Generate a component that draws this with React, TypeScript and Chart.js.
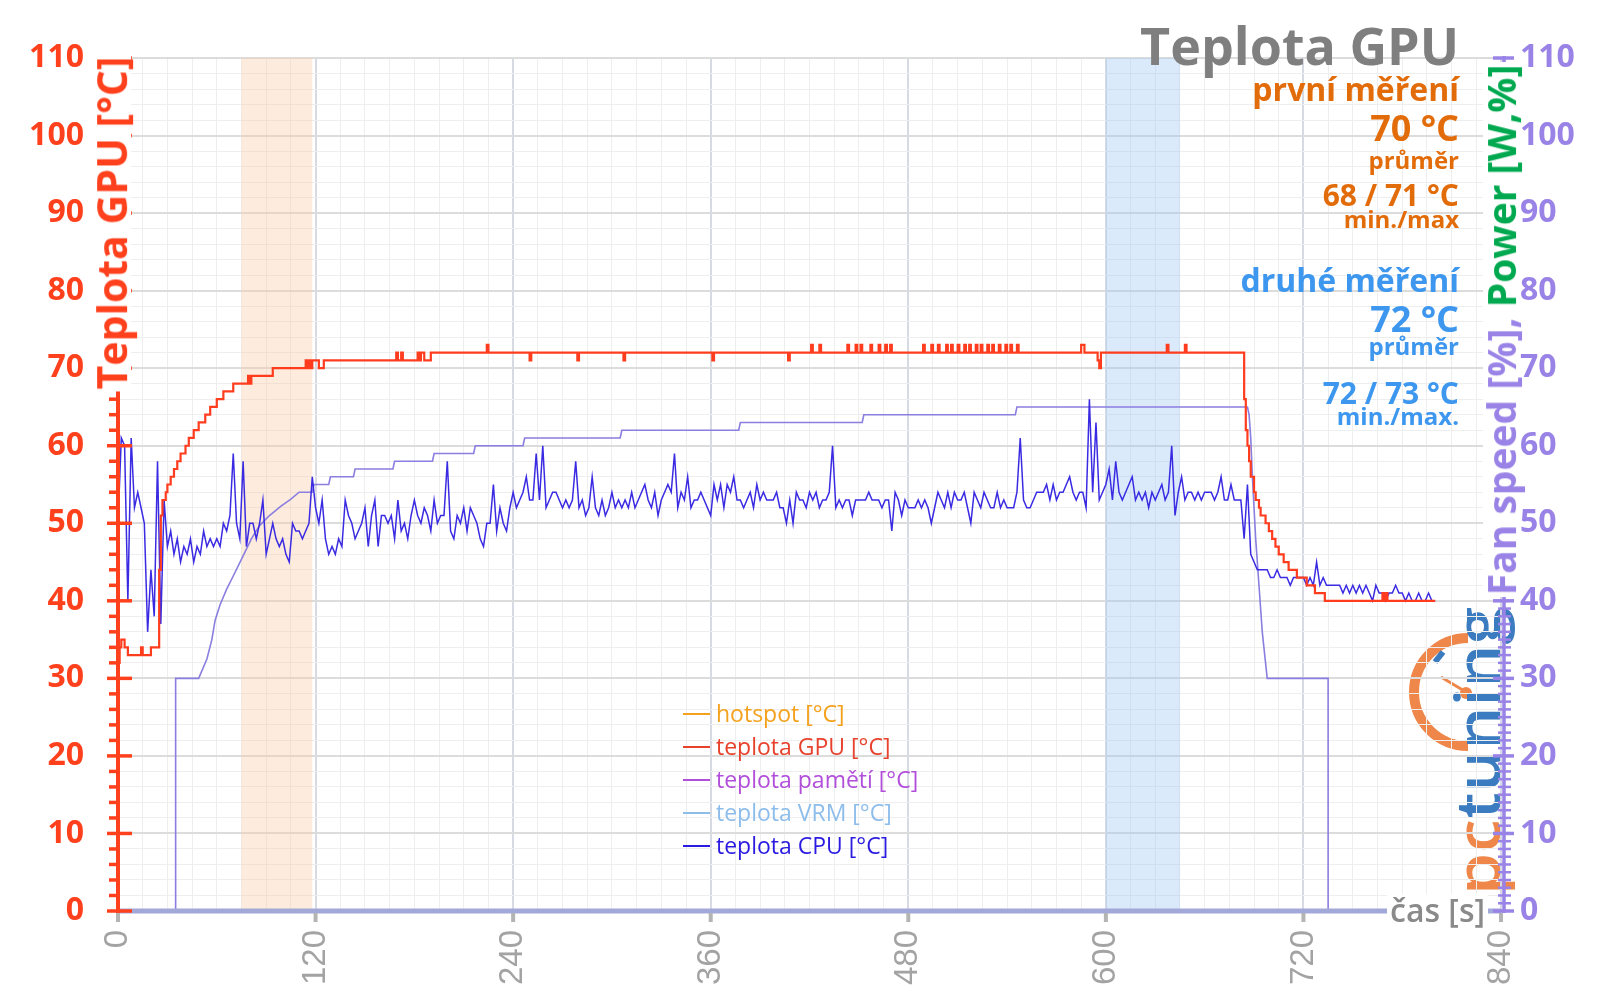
import React, { useEffect, useRef } from "react";
import { Chart, registerables } from "chart.js";

Chart.register(...registerables);

const W = 1600;
const H = 1008;

// ---------- axes ----------
const xMin = 0;
const xMax = 840;
const xMinorStep = 15;
const xMajorStep = 120;
const yMin = 0;
const yMax = 110;
const yMinorStep = 2;
const yMajorStep = 10;

// ---------- series (time [s], value) ----------
// teplota GPU [°C]  (step changes)
const gpuTemp: [number, number][] = [
  [0, 32], [1, 34], [2, 35], [4, 34], [6, 33], [14, 34], [15, 33], [20, 34], [25, 44], [26, 51],
  [27, 53], [29, 54], [30, 55], [32, 56], [34, 57], [36, 58], [38, 59], [41, 60], [43, 61], [46, 62],
  [49, 63], [53, 64], [56, 65], [60, 66], [64, 67], [70, 68], [79, 69], [80, 68], [81, 69], [94, 70],
  [114, 71], [115, 70], [116, 71], [117, 70], [118, 71], [122, 70], [125, 71], [169, 72], [170, 71], [172, 72],
  [173, 71], [182, 72], [183, 71], [184, 72], [186, 71], [190, 72], [224, 73], [225, 72], [250, 71], [251, 72],
  [279, 71], [280, 72], [307, 71], [308, 72], [361, 71], [362, 72], [407, 71], [408, 72], [421, 73], [422, 72],
  [426, 73], [427, 72], [443, 73], [444, 72], [448, 73], [449, 72], [451, 73], [452, 72], [457, 73], [458, 72],
  [462, 73], [463, 72], [466, 73], [467, 72], [469, 73], [470, 72], [489, 73], [490, 72], [494, 73], [495, 72],
  [498, 73], [499, 72], [503, 73], [504, 72], [506, 73], [507, 72], [510, 73], [511, 72], [514, 73], [515, 72],
  [517, 73], [518, 72], [521, 73], [522, 72], [524, 73], [525, 72], [528, 73], [529, 72], [531, 73], [532, 72],
  [535, 73], [536, 72], [539, 73], [540, 72], [542, 73], [543, 72], [546, 73], [547, 72], [585, 73], [587, 72],
  [595, 71], [596, 70], [597, 72], [637, 73], [638, 72], [648, 73], [649, 72], [684, 66], [685, 62], [686, 60],
  [687, 58], [688, 56], [690, 54], [691, 53], [693, 52], [694, 51], [697, 50], [699, 49], [701, 48], [703, 47],
  [705, 46], [708, 45], [711, 44], [716, 43], [722, 42], [727, 41], [733, 40], [768, 41], [769, 40], [770, 41],
  [771, 40], [800, 40],
];

// Fan speed [%]
const fanSpeed: [number, number][] = [
  [0, 0], [35, 0], [35, 30], [49, 30], [51, 31], [54, 32.5], [57, 35], [59, 37.5], [62, 39.5], [66, 41.5],
  [70, 43.2], [76, 45.8], [81, 48], [86, 49.7], [92, 51], [99, 52.2], [105, 53.1], [110, 54], [118, 54], [119, 55],
  [128, 55], [129, 56], [143, 56], [144, 57], [167, 57], [168, 58], [191, 58], [192, 59], [216, 59], [217, 60],
  [246, 60], [247, 61], [305, 61], [306, 62], [377, 62], [378, 63], [452, 63], [453, 64], [545, 64], [546, 65],
  [686, 65], [687, 64], [688, 61], [689, 56], [691, 48], [693, 42], [695, 36], [697, 32], [698, 30], [735, 30],
  [735, 0], [800, 0],
];

// teplota CPU [°C], one sample every 2 s from t = 0
const cpuSampleStep = 2;
const cpuTemp: number[] = [
  50, 61, 60, 40, 61, 52, 54, 52, 50, 36, 44, 38, 58, 37, 53, 47, 49, 46, 48, 45,
  47, 46, 48, 45, 47, 46, 49, 47, 48, 47, 48, 47, 50, 49, 51, 59, 50, 48, 58, 47,
  50, 50, 48, 50, 53, 46, 48, 50, 48, 47, 48, 46, 45, 50, 49, 49, 48, 49, 50, 56,
  52, 50, 53, 48, 46, 47, 46, 48, 47, 53, 51, 50, 48, 49, 50, 52, 47, 51, 53, 47,
  51, 51, 50, 51, 48, 53, 49, 50, 48, 51, 53, 51, 50, 52, 51, 49, 53, 50, 51, 51,
  58, 49, 48, 51, 50, 52, 49, 52, 51, 50, 48, 47, 50, 50, 55, 49, 52, 50, 49, 52,
  54, 52, 53, 54, 56, 53, 53, 59, 53, 60, 52, 53, 54, 54, 53, 52, 53, 52, 53, 58,
  52, 53, 51, 52, 56, 52, 51, 53, 51, 52, 54, 52, 53, 52, 53, 52, 54, 52, 53, 54,
  55, 53, 52, 54, 51, 53, 54, 55, 54, 59, 52, 54, 53, 56, 52, 53, 53, 54, 53, 52,
  51, 55, 53, 55, 52, 55, 54, 56, 53, 53, 52, 53, 54, 52, 55, 53, 54, 53, 53, 53,
  54, 52, 52, 50, 53, 50, 54, 53, 53, 52, 54, 53, 54, 52, 53, 53, 54, 60, 52, 53,
  52, 53, 53, 51, 53, 53, 53, 53, 54, 53, 53, 53, 52, 53, 53, 49, 54, 53, 51, 53,
  52, 52, 52, 53, 52, 53, 52, 50, 52, 54, 53, 52, 54, 52, 54, 53, 53, 54, 52, 50,
  54, 53, 52, 54, 53, 52, 52, 54, 52, 53, 52, 52, 52, 54, 61, 53, 52, 52, 53, 54,
  54, 54, 55, 53, 55, 53, 54, 54, 55, 56, 54, 53, 54, 54, 52, 66, 54, 63, 53, 54,
  55, 57, 53, 58, 54, 53, 54, 55, 56, 53, 54, 53, 54, 52, 54, 53, 54, 55, 53, 54,
  60, 51, 54, 56, 53, 54, 54, 53, 54, 53, 54, 54, 54, 53, 54, 56, 53, 53, 55, 53,
  53, 53, 48, 55, 46, 45, 44, 44, 44, 44, 43, 43, 44, 43, 43, 43, 42, 43, 43, 43,
  43, 42, 43, 42, 45, 42, 43, 42, 42, 42, 42, 42, 41, 42, 41, 42, 41, 42, 41, 42,
  41, 40, 42, 41, 41, 40, 41, 41, 42, 41, 41, 40, 41, 40, 40, 41, 40, 40, 41, 40,
  40,
];

// measured windows (time [s])
const firstWindow = [75, 118];
const secondWindow = [600, 645];

// ---------- texts ----------
const chartTitle = "Teplota GPU";
const leftAxisTitle = "Teplota GPU [°C]";
const rightAxisTitleA = "Fan speed [%], ";
const rightAxisTitleB = "Power [W,%]";
const xAxisTitle = "čas [s]";
const firstStats = ["první měření", "70 °C", "průměr", "68 / 71 °C", "min./max"];
const secondStats = ["druhé měření", "72 °C", "průměr", "72 / 73 °C", "min./max."];
const legendLabels = ["hotspot [°C]", "teplota GPU [°C]", "teplota pamětí [°C]", "teplota VRM [°C]", "teplota CPU [°C]"];
const legendColors = ["#F4A21E", "#E8412C", "#B24FDA", "#8DBDEB", "#2B1BE0"];

// ---------- colours ----------
const RED = "#FF401C";
const GPU_LINE = "#FF3C1E";
const CPU_LINE = "#3A2BE3";
const FAN_LINE = "#8A7EE0";
const PURPLE = "#9A83E6";
const GREEN = "#00A84F";
const ORANGE = "#E36C0A";
const BLUE = "#3D97EE";
const GRAY_TITLE = "#7F7F7F";
const OS = '"Open Sans", "DejaVu Sans", sans-serif';

const decoPlugin = {
  id: "deco",
  beforeDatasetsDraw(chart: any) {
    const { ctx, chartArea: a, scales } = chart;
    const x = scales.x;
    ctx.save();
    const bands: [number[], string][] = [
      [firstWindow, "rgba(251,205,165,0.38)"],
      [secondWindow, "rgba(160,200,245,0.38)"],
    ];
    for (const [w, c] of bands) {
      const x0 = x.getPixelForValue(w[0]);
      const x1 = x.getPixelForValue(w[1]);
      ctx.fillStyle = c;
      ctx.fillRect(x0, a.top, x1 - x0, a.bottom - a.top);
    }
    ctx.restore();
  },
  afterDatasetsDraw(chart: any) {
    const { ctx, chartArea: a, scales } = chart;
    const x = scales.x;
    const y = scales.y;
    const line = (x0: number, y0: number, x1: number, y1: number) => {
      ctx.beginPath();
      ctx.moveTo(x0, y0);
      ctx.lineTo(x1, y1);
      ctx.stroke();
    };
    ctx.save();
    // x axis
    ctx.strokeStyle = "#A2A8D8";
    ctx.lineWidth = 5;
    line(a.left, a.bottom, a.right, a.bottom);
    ctx.strokeStyle = "#B4B4B4";
    ctx.lineWidth = 4;
    for (let v = xMin; v <= xMax; v += xMajorStep) {
      const px = x.getPixelForValue(v);
      line(px, a.bottom + 2, px, a.bottom + 11);
    }
    // left axis
    ctx.strokeStyle = RED;
    ctx.lineWidth = 4;
    line(a.left, a.top - 2, a.left, a.bottom + 2);
    ctx.lineWidth = 3.5;
    for (let v = yMin; v <= yMax; v += yMinorStep) {
      const py = y.getPixelForValue(v);
      if (v % yMajorStep === 0) line(a.left - 11, py, a.left + 14, py);
      else line(a.left - 9, py, a.left, py);
    }
    // right axis
    ctx.strokeStyle = PURPLE;
    ctx.lineWidth = 3.5;
    line(a.right + 3, a.top - 2, a.right + 3, a.bottom + 2);
    for (let v = yMin; v <= yMax; v += 1) {
      const py = y.getPixelForValue(v);
      if (v % yMajorStep === 0) {
        ctx.lineWidth = 3.5;
        line(a.right - 8, py, a.right + 13, py);
      } else {
        ctx.lineWidth = 2.5;
        line(a.right - 3, py, a.right + 10, py);
      }
    }
    ctx.restore();
  },
};

function Txt(props: { x: number; base: number; size: number; color: string; text: string; weight?: number; align?: "left" | "right"; bg?: string }) {
  const { x, base, size, color, text, weight = 700, align = "right", bg } = props;
  const style: any = {
    position: "absolute",
    top: base - 0.888 * size,
    fontFamily: OS,
    fontWeight: weight,
    fontSize: size,
    lineHeight: 1,
    color,
    whiteSpace: "nowrap",
  };
  if (bg) {
    style.background = bg;
    style.padding = "0 3px";
  }
  if (align === "right") style.right = W - x;
  else style.left = x;
  return <div style={style}>{text}</div>;
}

export default function App() {
  const ref = useRef<HTMLCanvasElement>(null);

  useEffect(() => {
    const canvas = ref.current!;
    const gpuData = gpuTemp.map(([t, v]) => ({ x: t, y: v }));
    const fanData = fanSpeed.map(([t, v]) => ({ x: t, y: v }));
    const cpuData = cpuTemp.map((v, i) => ({ x: i * cpuSampleStep, y: v }));

    const chart = new Chart(canvas, {
      type: "line",
      data: {
        datasets: [
          { label: "teplota GPU [°C]", data: gpuData, yAxisID: "y", borderColor: GPU_LINE, borderWidth: 2.2, pointRadius: 0, stepped: true },
          { label: "teplota CPU [°C]", data: cpuData, yAxisID: "y", borderColor: CPU_LINE, borderWidth: 1.5, pointRadius: 0, tension: 0 },
          { label: "Fan speed [%]", data: fanData, yAxisID: "yR", borderColor: FAN_LINE, borderWidth: 1.6, pointRadius: 0, tension: 0 },
        ],
      },
      options: {
        responsive: false,
        animation: false,
        layout: { padding: { top: 58, left: 0, right: 0, bottom: 0 } },
        plugins: { legend: { display: false }, tooltip: { enabled: false }, title: { display: false } },
        scales: {
          x: {
            type: "linear",
            min: xMin,
            max: xMax,
            afterFit: (s: any) => { s.height = 97; },
            border: { display: false },
            grid: {
              drawTicks: false,
              color: (c: any) => (c.tick && c.tick.value % xMajorStep === 0 ? "#D7DAE3" : "#EEEEEE"),
              lineWidth: (c: any) => (c.tick && c.tick.value % xMajorStep === 0 ? 2 : 1),
            },
            ticks: {
              stepSize: xMinorStep,
              autoSkip: false,
              minRotation: 90,
              maxRotation: 90,
              padding: 19,
              color: "#A3A3A3",
              font: { family: '"Liberation Sans", Arial, sans-serif', size: 33 },
              callback: (v: any) => (Number(v) % xMajorStep === 0 ? String(v) : ""),
            },
          },
          y: {
            position: "left",
            min: yMin,
            max: yMax,
            afterFit: (s: any) => { s.width = 118; },
            border: { display: false },
            grid: {
              drawTicks: false,
              color: (c: any) => (c.tick && c.tick.value % yMajorStep === 0 ? "#DCDCDC" : "#EEEEEE"),
              lineWidth: (c: any) => (c.tick && c.tick.value % yMajorStep === 0 ? 2 : 1),
            },
            ticks: {
              stepSize: yMinorStep,
              autoSkip: false,
              padding: 34,
              color: RED,
              font: { family: OS, size: 32, weight: "bold" },
              callback: (v: any) => (Number(v) % yMajorStep === 0 ? String(v) : ""),
            },
          },
          yR: {
            position: "right",
            min: yMin,
            max: yMax,
            afterFit: (s: any) => { s.width = 99; },
            border: { display: false },
            grid: { display: false, drawTicks: false },
            ticks: {
              stepSize: yMajorStep,
              autoSkip: false,
              padding: 19,
              color: PURPLE,
              font: { family: OS, size: 32, weight: "bold" },
            },
          },
        },
      },
      plugins: [decoPlugin],
    } as any);
    return () => chart.destroy();
  }, []);

  const statSizes = [32, 36, 24, 30, 24];
  const firstBases = [101, 142, 169, 207, 228];
  const secondBases = [292, 333, 355, 405, 425];
  const legendRowY = [714, 747, 780, 813, 846];

  return (
    <div style={{ position: "absolute", left: 0, top: 0, width: W, height: H, background: "#fff", overflow: "hidden" }}>
      {/* logo under the chart */}
      <svg width={W} height={H} style={{ position: "absolute", left: 0, top: 0 }}>
        <path d="M 1468 638 A 54 54 0 0 0 1468 746" fill="none" stroke="#F0874A" strokeWidth={10} />
        <line x1={1435} y1={662} x2={1443} y2={652} stroke="#3B7BBF" strokeWidth={6} />
        <line x1={1441} y1={677} x2={1466} y2={692} stroke="#F0874A" strokeWidth={3} />
        <circle cx={1466} cy={693} r={6} fill="#F0874A" />
        <text
          transform="translate(1500,895) rotate(-90)"
          fontFamily={OS}
          fontWeight={600}
          fontSize={62}
          textLength={288}
          lengthAdjust="spacingAndGlyphs"
        >
          <tspan fill="#F0874A">pc</tspan>
          <tspan fill="#3B7BBF">tuning</tspan>
        </text>
      </svg>

      <canvas ref={ref} width={W} height={H} style={{ position: "absolute", left: 0, top: 0, width: W, height: H }} />

      {/* title */}
      <Txt x={1459} base={65} size={52} color={GRAY_TITLE} text={chartTitle} />

      {/* stats */}
      {firstStats.map((s, i) => (
        <Txt key={"a" + i} x={1459} base={firstBases[i]} size={statSizes[i]} color={ORANGE} text={s} />
      ))}
      {secondStats.map((s, i) => (
        <Txt key={"b" + i} x={1459} base={secondBases[i]} size={statSizes[i]} color={BLUE} text={s} />
      ))}

      {/* legend */}
      {legendLabels.map((l, i) => (
        <React.Fragment key={"l" + i}>
          <div style={{ position: "absolute", left: 683, top: legendRowY[i] - 1, width: 27, height: 2, background: legendColors[i] }} />
          <Txt x={716} base={legendRowY[i] + 8} size={23} weight={400} align="left" color={legendColors[i]} text={l} />
        </React.Fragment>
      ))}

      {/* x axis title */}
      <Txt x={1488} base={922} size={32} weight={600} color="#8A8A8A" text={xAxisTitle} bg="#fff" />

      {/* left axis title */}
      <div
        style={{
          position: "absolute",
          left: 112,
          top: 223,
          transform: "translate(-50%,-50%) rotate(-90deg)",
          fontFamily: OS,
          fontWeight: 700,
          fontSize: 41,
          lineHeight: 0.92,
          color: RED,
          background: "#fff",
          whiteSpace: "nowrap",
          padding: "0 2px",
        }}
      >
        {leftAxisTitle}
      </div>

      {/* right axis title */}
      <div
        style={{
          position: "absolute",
          left: 1501,
          top: 330,
          transform: "translate(-50%,-50%) rotate(-90deg)",
          fontFamily: OS,
          fontWeight: 700,
          fontSize: 39,
          lineHeight: 0.92,
          background: "#fff",
          whiteSpace: "nowrap",
          padding: "0 2px",
        }}
      >
        <span style={{ color: PURPLE }}>{rightAxisTitleA}</span>
        <span style={{ color: GREEN }}>{rightAxisTitleB}</span>
      </div>
    </div>
  );
}
